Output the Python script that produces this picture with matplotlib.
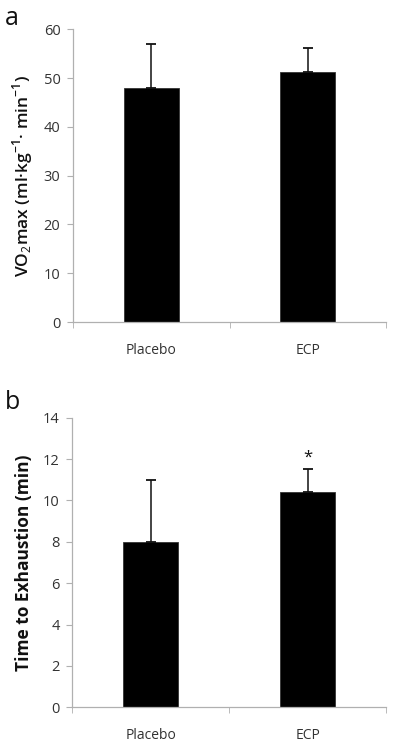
import numpy as np
import matplotlib
matplotlib.use("Agg")
import matplotlib.pyplot as plt

plt.rcParams['font.family'] = ['Open Sans', 'DejaVu Sans']
plt.rcParams['mathtext.fontset'] = 'custom'
plt.rcParams['mathtext.rm'] = 'Open Sans'

groups = ['Placebo', 'ECP']
vo2_mean = [48.0, 51.2]
vo2_err = [9.0, 5.0]
tte_mean = [8.0, 10.4]
tte_err = [3.0, 1.1]
tte_sig = ['', '*']

fig = plt.figure(figsize=(3.94, 7.49), dpi=100)
ax1 = fig.add_axes([0.185, 0.570, 0.795, 0.391])
ax2 = fig.add_axes([0.183, 0.0557, 0.797, 0.3866])

axis_col = '#b0b0b0'
text_col = '#333333'

def style(ax, ymax, step):
    x = np.arange(len(groups))
    ax.set_xlim(-0.5, len(groups) - 0.5)
    ax.set_ylim(0, ymax)
    ax.set_yticks(np.arange(0, ymax + 1, step))
    ax.set_xticks(x)
    ax.set_xticklabels(groups, color=text_col, fontsize=10)
    ax.set_xticks(np.arange(-0.5, len(groups)), minor=True)
    ax.tick_params(axis='x', which='major', length=0, pad=15)
    ax.tick_params(axis='x', which='minor', length=4, color=axis_col, direction='out')
    ax.tick_params(axis='y', length=4, color=axis_col, labelcolor=text_col, labelsize=10.5, pad=5)
    for s in ['top', 'right']:
        ax.spines[s].set_visible(False)
    for s in ['left', 'bottom']:
        ax.spines[s].set_color(axis_col)
        ax.spines[s].set_linewidth(0.9)

x = np.arange(len(groups))
ax1.bar(x, vo2_mean, width=0.35, color='black', edgecolor='#333333', linewidth=0.6)
ax1.errorbar(x, vo2_mean, yerr=[np.zeros(len(x)), vo2_err], fmt='none',
             ecolor='#111111', elinewidth=1.1, capsize=3.5, capthick=1.3)
style(ax1, 60, 10)
ax1.set_ylabel('VO$_2$max (ml·kg$^{\\mathregular{-1}}$· min$^{\\mathregular{-1}}$)',
               fontsize=12.5, fontweight='semibold', color='#111111', labelpad=6)

ax2.bar(x, tte_mean, width=0.35, color='black', edgecolor='#333333', linewidth=0.6)
ax2.errorbar(x, tte_mean, yerr=[np.zeros(len(x)), tte_err], fmt='none',
             ecolor='#111111', elinewidth=1.1, capsize=3.5, capthick=1.3)
for xi, m, e, s in zip(x, tte_mean, tte_err, tte_sig):
    if s:
        ax2.text(xi, m + e + 0.2, s, ha='center', va='bottom', fontsize=12, color='#111111')
style(ax2, 14, 2)
ax2.set_ylabel('Time to Exhaustion (min)', fontsize=12.5, fontweight='bold',
               color='#111111', labelpad=7)

fig.text(0.012, 0.975, 'a', fontsize=18, color='#111111', va='center')
fig.text(0.012, 0.463, 'b', fontsize=18, color='#111111', va='center')

fig.savefig('out.png', dpi=100)
